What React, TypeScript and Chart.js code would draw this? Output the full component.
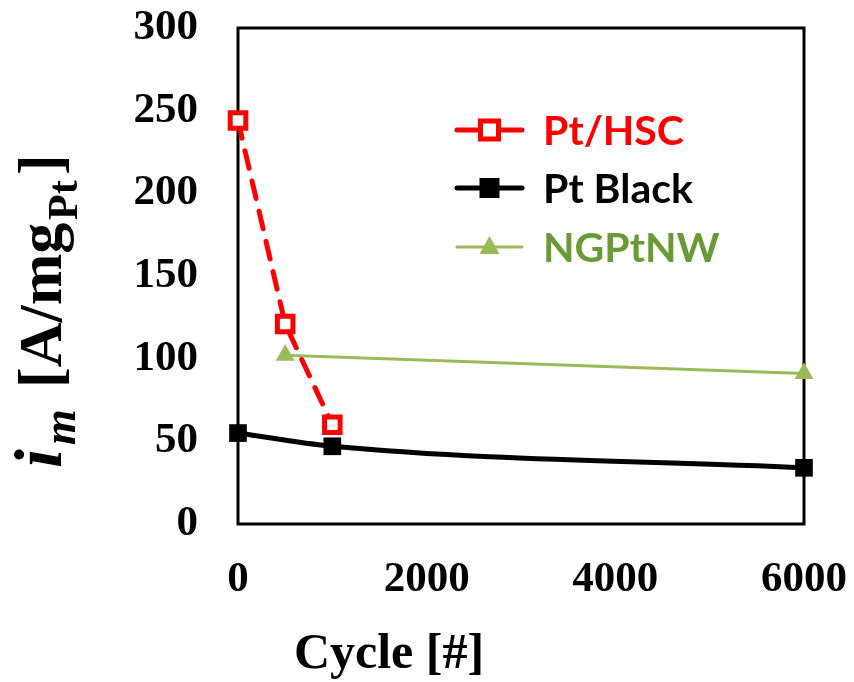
import React, { useEffect, useRef } from "react";
import { Chart, registerables } from "chart.js";

Chart.register(...registerables);

// Mass activity vs. potential-cycling count for three catalysts
const ptHscCycles = [0, 500, 1000];
const ptHscValues = [244, 121, 60];

const ptBlackCycles = [0, 1000, 6000];
const ptBlackValues = [55, 47, 34];

const ngptnwCycles = [500, 6000];
const ngptnwValues = [102, 91];

const seriesNames = ["Pt/HSC", "Pt Black", "NGPtNW"];
const xAxisTitle = "Cycle [#]";

const RED = "#FF0000";
const BLACK = "#000000";
const GREEN_LINE = "#9BBB59";
const GREEN_TEXT = "#6A9A36";

const SERIF = "'Liberation Serif', 'Times New Roman', serif";
const SANS = "Lato, 'Open Sans', 'Liberation Sans', sans-serif";

const toPoints = (xs: number[], ys: number[]) => xs.map((x, i) => ({ x, y: ys[i] }));

// Box around the plotting area, drawn under the markers
const framePlugin = {
  id: "frame",
  beforeDatasetsDraw(chart: any) {
    const { ctx, chartArea: a } = chart;
    ctx.save();
    ctx.strokeStyle = BLACK;
    ctx.lineWidth = 3;
    ctx.strokeRect(a.left, a.top, a.right - a.left, a.bottom - a.top);
    ctx.restore();
  },
};

// Rotated y-axis title with italic symbol and subscripts
const yTitlePlugin = {
  id: "yTitle",
  afterDraw(chart: any) {
    const { ctx } = chart;
    ctx.save();
    ctx.fillStyle = BLACK;
    ctx.textBaseline = "alphabetic";
    ctx.textAlign = "left";
    ctx.translate(61, 468);
    ctx.rotate(-Math.PI / 2);
    ctx.font = `italic bold 68px ${SERIF}`;
    ctx.fillText("i", 0, 0);
    ctx.font = `italic bold 46px ${SERIF}`;
    ctx.fillText("m", 23, 14);
    ctx.font = `bold 62px ${SERIF}`;
    ctx.fillText("[A/mg", 80, 0);
    ctx.font = `bold 42px ${SERIF}`;
    ctx.fillText("Pt", 248, 16);
    ctx.font = `bold 62px ${SERIF}`;
    ctx.fillText("]", 293, 0);
    ctx.restore();
  },
};

// X-axis title
const xTitlePlugin = {
  id: "xTitle",
  afterDraw(chart: any) {
    const { ctx } = chart;
    ctx.save();
    ctx.fillStyle = BLACK;
    ctx.font = `bold 50px ${SERIF}`;
    ctx.textAlign = "center";
    ctx.textBaseline = "alphabetic";
    ctx.fillText(xAxisTitle, 389, 668);
    ctx.restore();
  },
};

// Legend placed inside the plot area
const legendPlugin = {
  id: "insideLegend",
  afterDraw(chart: any) {
    const { ctx } = chart;
    const rows = [
      { y: 130, color: RED, text: RED, kind: "openSquare" },
      { y: 188, color: BLACK, text: BLACK, kind: "square" },
      { y: 247, color: GREEN_LINE, text: GREEN_TEXT, kind: "triangle" },
    ];
    const x0 = 457;
    const x1 = 522;
    const cx = (x0 + x1) / 2;
    ctx.save();
    rows.forEach((r, i) => {
      ctx.strokeStyle = r.color;
      ctx.fillStyle = r.color;
      ctx.lineCap = "round";
      ctx.lineWidth = r.kind === "triangle" ? 3 : 5;
      ctx.beginPath();
      ctx.moveTo(x0, r.y);
      ctx.lineTo(x1, r.y);
      ctx.stroke();
      if (r.kind === "openSquare") {
        ctx.fillStyle = "#FFFFFF";
        ctx.fillRect(cx - 9, r.y - 9, 18, 18);
        ctx.lineWidth = 5;
        ctx.strokeStyle = r.color;
        ctx.strokeRect(cx - 9, r.y - 9, 18, 18);
      } else if (r.kind === "square") {
        ctx.fillRect(cx - 10, r.y - 10, 20, 20);
      } else {
        ctx.beginPath();
        ctx.moveTo(cx, r.y - 11);
        ctx.lineTo(cx + 10, r.y + 7);
        ctx.lineTo(cx - 10, r.y + 7);
        ctx.closePath();
        ctx.fill();
      }
      ctx.fillStyle = r.text;
      ctx.font = `bold 41px ${SANS}`;
      ctx.textAlign = "left";
      ctx.textBaseline = "middle";
      ctx.fillText(seriesNames[i], 543, r.y + 2);
    });
    ctx.restore();
  },
};

export default function App() {
  const canvasRef = useRef<HTMLCanvasElement | null>(null);

  useEffect(() => {
    const canvas = canvasRef.current;
    if (!canvas) return;
    const chart = new Chart(canvas, {
      type: "line",
      data: {
        datasets: [
          {
            label: seriesNames[0],
            data: toPoints(ptHscCycles, ptHscValues),
            borderColor: RED,
            borderWidth: 5,
            borderDash: [18, 13],
            borderCapStyle: "round",
            tension: 0,
            pointStyle: "rect",
            pointRadius: 11,
            pointBorderWidth: 5,
            pointBorderColor: RED,
            pointBackgroundColor: "#FFFFFF",
            clip: false,
            order: 0,
          },
          {
            label: seriesNames[1],
            data: toPoints(ptBlackCycles, ptBlackValues),
            borderColor: BLACK,
            borderWidth: 5,
            tension: 0.4,
            cubicInterpolationMode: "monotone",
            pointStyle: "rect",
            pointRadius: 12.5,
            pointBorderWidth: 0,
            pointBackgroundColor: BLACK,
            pointBorderColor: BLACK,
            clip: false,
            order: 1,
          },
          {
            label: seriesNames[2],
            data: toPoints(ngptnwCycles, ngptnwValues),
            borderColor: GREEN_LINE,
            borderWidth: 3,
            tension: 0,
            pointStyle: "triangle",
            pointRadius: 11,
            pointBorderWidth: 0,
            pointBackgroundColor: GREEN_LINE,
            pointBorderColor: GREEN_LINE,
            clip: false,
            order: 2,
          },
        ],
      },
      options: {
        responsive: false,
        animation: false,
        layout: { padding: { top: 28, right: 50, left: 0, bottom: 0 } },
        plugins: {
          legend: { display: false },
          tooltip: { enabled: false },
          title: { display: false },
        },
        scales: {
          x: {
            type: "linear",
            min: 0,
            max: 6000,
            grid: { display: false, drawTicks: false },
            border: { display: false },
            ticks: {
              stepSize: 2000,
              color: BLACK,
              padding: 30,
              maxRotation: 0,
              callback: (v: any) => String(v),
              font: { family: SERIF, weight: "bold", size: 43 },
            },
            afterFit(scale: any) {
              scale.height = 158;
              scale.paddingLeft = 0;
              scale.paddingRight = 0;
            },
          },
          y: {
            type: "linear",
            min: 0,
            max: 300,
            grid: { display: false, drawTicks: false },
            border: { display: false },
            ticks: {
              stepSize: 50,
              color: BLACK,
              padding: 40,
              callback: (v: any) => String(v),
              font: { family: SERIF, weight: "bold", size: 43 },
            },
            afterFit(scale: any) {
              scale.width = 238;
              scale.paddingTop = 0;
              scale.paddingBottom = 0;
            },
          },
        },
      },
      plugins: [framePlugin, yTitlePlugin, xTitlePlugin, legendPlugin],
    });
    return () => chart.destroy();
  }, []);

  return (
    <div style={{ position: "absolute", left: 0, top: 0, width: 854, height: 682, background: "#FFFFFF" }}>
      <canvas ref={canvasRef} width={854} height={682} style={{ display: "block" }} />
    </div>
  );
}
